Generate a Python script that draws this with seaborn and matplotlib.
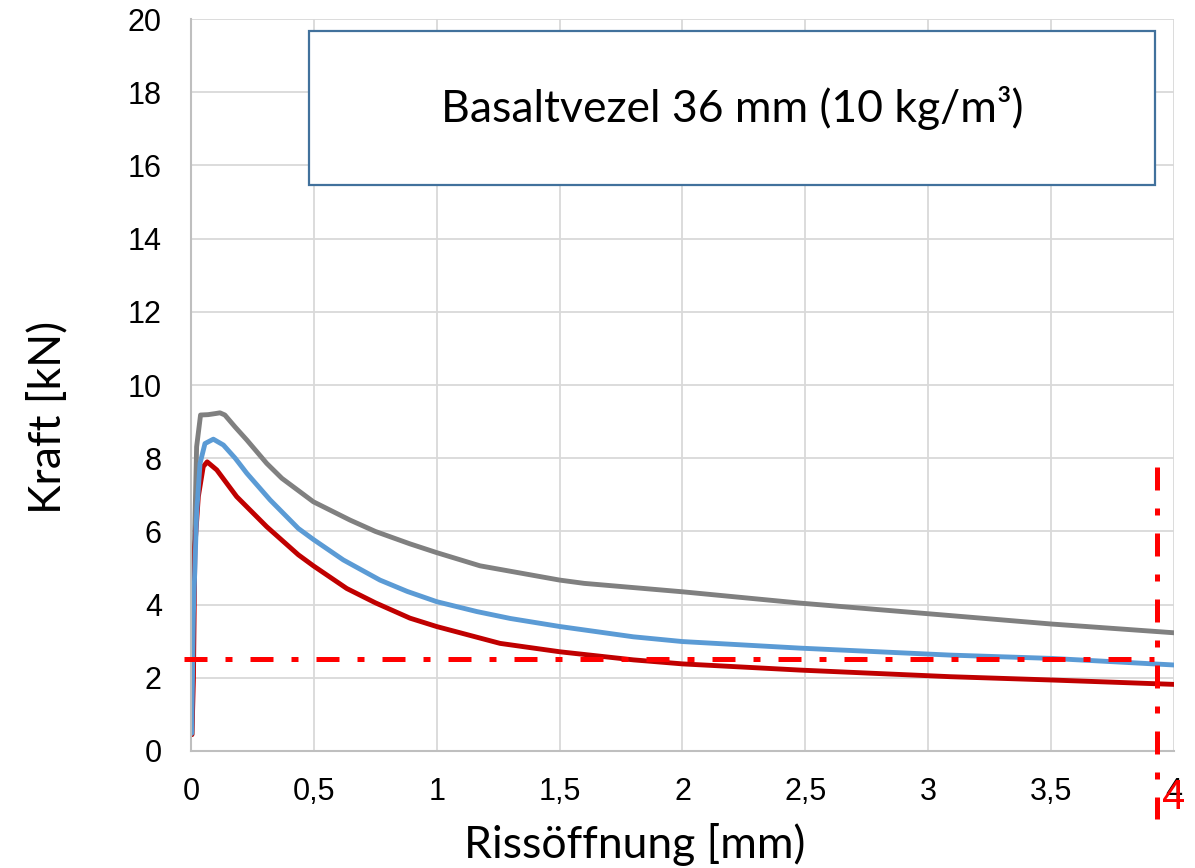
import pandas as pd
import matplotlib
matplotlib.use("Agg")
import matplotlib.pyplot as plt
import seaborn as sns
from matplotlib.patches import Rectangle

# crack opening [mm] and force [kN] for the three specimens
gray_x = [0.004, 0.012, 0.023, 0.039, 0.07, 0.10, 0.118, 0.138, 0.18, 0.227, 0.308, 0.37,
          0.444, 0.498, 0.647, 0.75, 0.891, 1.0, 1.176, 1.5, 1.6, 2.0, 2.48, 3.09, 3.5, 4.0]
gray_y = [0.45, 5.0, 8.31, 9.18, 9.19, 9.22, 9.24, 9.18, 8.85, 8.5, 7.86, 7.45,
          7.08, 6.81, 6.31, 6.0, 5.66, 5.42, 5.06, 4.67, 4.58, 4.35, 4.04, 3.70, 3.47, 3.23]

blue_x = [0.003, 0.01, 0.023, 0.037, 0.057, 0.091, 0.132, 0.18, 0.227, 0.322, 0.437, 0.498,
          0.62, 0.769, 0.88, 1.0, 1.163, 1.3, 1.502, 1.8, 2.0, 2.48, 3.09, 3.5, 4.0]
blue_y = [0.48, 3.76, 6.49, 7.86, 8.4, 8.52, 8.36, 8.0, 7.59, 6.86, 6.08, 5.78,
          5.22, 4.67, 4.36, 4.08, 3.81, 3.62, 3.40, 3.12, 2.99, 2.81, 2.62, 2.53, 2.35]

red_x = [0.004, 0.01, 0.016, 0.03, 0.05, 0.066, 0.105, 0.186, 0.308, 0.437, 0.498, 0.634,
         0.75, 0.891, 1.0, 1.258, 1.502, 1.8, 2.0, 2.48, 3.09, 3.5, 4.0]
red_y = [0.45, 1.94, 5.58, 6.95, 7.77, 7.9, 7.68, 6.95, 6.13, 5.36, 5.06, 4.44,
         4.05, 3.63, 3.40, 2.94, 2.71, 2.49, 2.38, 2.21, 2.03, 1.94, 1.82]

x_ticks = [0, 0.5, 1, 1.5, 2, 2.5, 3, 3.5, 4]
x_labels = ["0", "0,5", "1", "1,5", "2", "2,5", "3", "3,5", "4"]
y_ticks = [0, 2, 4, 6, 8, 10, 12, 14, 16, 18, 20]

threshold_force = 2.5
threshold_x = 3.93
title = "Basaltvezel 36 mm (10 kg/m³)"

df = pd.concat([
    pd.DataFrame({"x": gray_x, "y": gray_y, "serie": "grau"}),
    pd.DataFrame({"x": red_x, "y": red_y, "serie": "rot"}),
    pd.DataFrame({"x": blue_x, "y": blue_y, "serie": "blau"}),
])
palette = {"grau": "#808080", "rot": "#C00000", "blau": "#5B9BD5"}

sns.set_style("white")
plt.rcParams["font.family"] = ["Liberation Sans", "DejaVu Sans"]
plt.rcParams["text.color"] = "black"
plt.rcParams["axes.labelcolor"] = "black"
plt.rcParams["xtick.color"] = "black"
plt.rcParams["ytick.color"] = "black"

fig = plt.figure(figsize=(11.95, 8.68), dpi=100)
ax = fig.add_axes([0.1598, 0.1348, 0.8226, 0.8433])

sns.lineplot(data=df, x="x", y="y", hue="serie", palette=palette, lw=3.5,
             legend=False, ax=ax, estimator=None, sort=False)

ax.set_xlim(0, 4)
ax.set_ylim(0, 20)
ax.set_xticks(x_ticks)
ax.set_xticklabels(x_labels)
ax.set_yticks(y_ticks)
ax.tick_params(axis="x", length=0, pad=19, labelsize=22)
ax.tick_params(axis="y", length=0, pad=21, labelsize=22)
ax.grid(True, color="#D9D9D9", lw=1.3)
for side in ["top", "right"]:
    ax.spines[side].set_visible(False)
for side in ["left", "bottom"]:
    ax.spines[side].set_color("#BFBFBF")
    ax.spines[side].set_linewidth(1.5)

# red reference lines
dash = (0, (4.6, 3.6, 1.4, 3.6))
ax.plot([-0.03, threshold_x - 0.01], [threshold_force, threshold_force], color="#FF0000",
        lw=3.6, linestyle=dash, clip_on=False, zorder=5)
ax.plot([threshold_x, threshold_x], [7.75, -1.87], color="#FF0000",
        lw=3.6, linestyle=dash, clip_on=False, zorder=5)
ax.text(3.997, -1.28, "4", color="#FF0000", fontsize=30, ha="center", va="center",
        clip_on=False, zorder=6)

label_font = ["Lato", "DejaVu Sans"]
ax.set_xlabel("Rissöffnung [mm)", fontsize=32, va="center", family=label_font)
ax.xaxis.set_label_coords(0.4517, -0.1284)
ax.set_ylabel("Kraft [kN)", fontsize=32, va="center", family=label_font)
ax.yaxis.set_label_coords(-0.1455, 0.4556)

ax.add_patch(Rectangle((0.12, 0.773), 0.8607, 0.2106, transform=ax.transAxes,
                       facecolor="white", edgecolor="#41719C", lw=1.6, zorder=7))
ax.text(0.5504, 0.878, title, transform=ax.transAxes, fontsize=32, family=label_font,
        ha="center", va="center", zorder=8)

fig.savefig("out.png", dpi=100)
